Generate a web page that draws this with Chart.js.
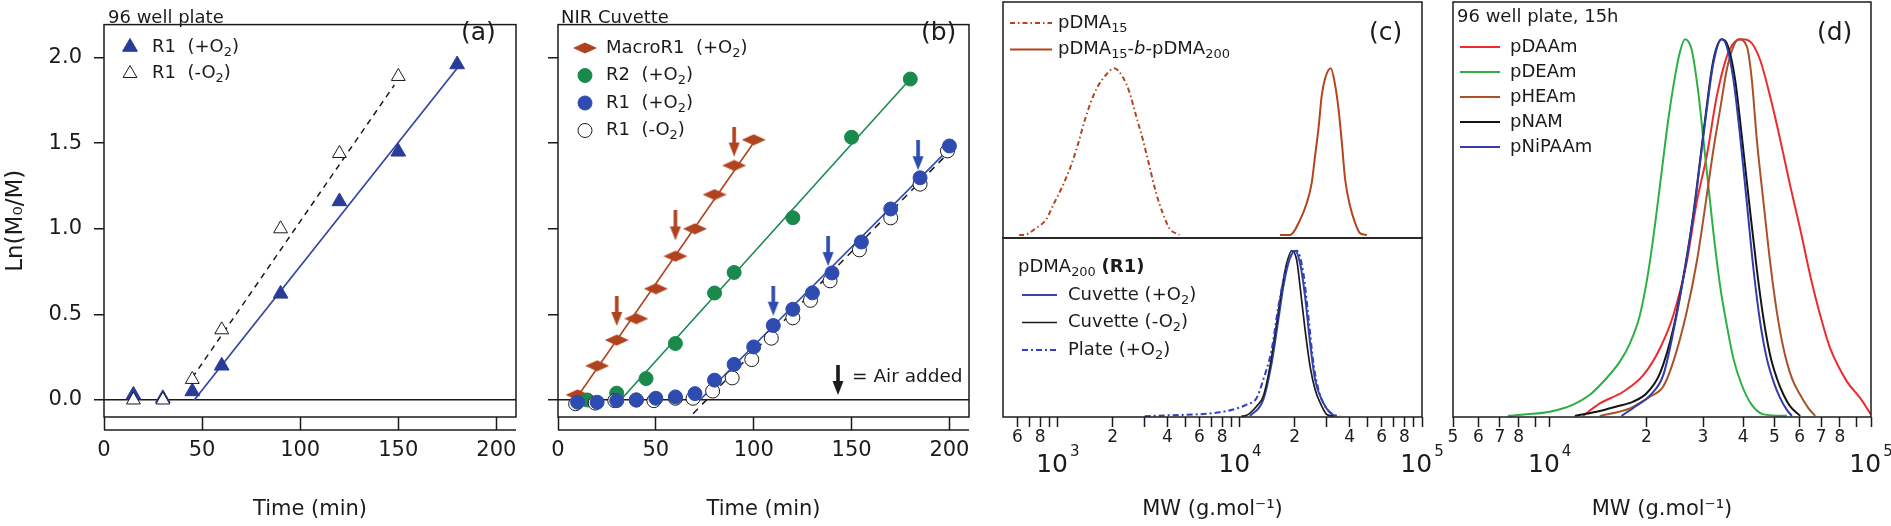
<!DOCTYPE html>
<html>
<head>
<meta charset="utf-8">
<title>Kinetics and GPC traces</title>
<script src="https://cdn.jsdelivr.net/npm/chart.js@4.4.1/dist/chart.umd.min.js"></script>
<style>
  html, body { margin: 0; padding: 0; background: #fff; }
  #fig { position: relative; width: 1891px; height: 526px; overflow: hidden; }
  #fig canvas { position: absolute; }
</style>
</head>
<body>
<div id="fig">
  <canvas id="pa" width="530" height="526" style="left:0;top:0"></canvas>
  <canvas id="pb" width="450" height="526" style="left:530px;top:0"></canvas>
  <canvas id="pc2" width="470" height="290" style="left:980px;top:236px"></canvas>
  <canvas id="pc1" width="470" height="240" style="left:980px;top:0"></canvas>
  <canvas id="pd" width="451" height="526" style="left:1440px;top:0"></canvas>
</div>
<script>
// ---------- data ----------
// shared time axis, panels (a) and (b)
var timeTicks = [0, 50, 100, 150, 200];
var lnTicks = [0, 0.5, 1.0, 1.5, 2.0];

// (a) 96 well plate
var aPlusTime = [15, 30, 45, 60, 90, 120, 150, 180];
var aPlusLn = [0.03, 0.01, 0.05, 0.20, 0.62, 1.16, 1.45, 1.96];
var aMinusTime = [15, 30, 45, 60, 90, 120, 150];
var aMinusLn = [0.00, 0.00, 0.12, 0.41, 1.00, 1.44, 1.89];
var aPlusFitTime = [46, 180.5];
var aPlusFitLn = [0, 1.945];
var aMinusFitTime = [45, 148];
var aMinusFitLn = [0.13, 1.84];

// (b) NIR cuvette
var bMacroTime = [10, 20, 30, 40, 50, 60, 70, 80, 90, 100];
var bMacroLn = [0.03, 0.20, 0.35, 0.475, 0.65, 0.84, 1.0, 1.20, 1.37, 1.52];
var bR2Time = [15, 30, 45, 60, 80, 90, 120, 150, 180];
var bR2Ln = [0.0, 0.04, 0.125, 0.33, 0.625, 0.745, 1.065, 1.535, 1.875];
var bR1Time = [10, 20, 30, 40, 50, 60, 70, 80, 90, 100, 110, 120, 130, 140, 155, 170, 185, 200];
var bR1Ln = [-0.013, -0.013, -0.004, 0, 0.01, 0.018, 0.037, 0.116, 0.208, 0.31, 0.435, 0.53, 0.626, 0.742, 0.923, 1.116, 1.298, 1.484];
var bR1noTime = [9, 19, 29, 40, 49, 60, 69, 79, 89, 99, 109, 120, 129, 139, 154, 170, 185, 199];
var bR1noLn = [-0.022, -0.018, -0.004, 0, -0.004, 0.01, 0.01, 0.052, 0.129, 0.236, 0.361, 0.48, 0.582, 0.696, 0.877, 1.064, 1.261, 1.455];
var bMacroFitTime = [10, 101], bMacroFitLn = [0.02, 1.52];
var bR2FitTime = [32, 180], bR2FitLn = [0, 1.875];
var bR1FitTime = [72.5, 200], bR1FitLn = [0, 1.47];
var bR1noFitTime = [69, 200], bR1noFitLn = [-0.08, 1.45];
var bAirBrownTime = [30, 60, 90], bAirBrownLn = [0.52, 1.02, 1.51];
var bAirBlueTime = [110, 138, 184], bAirBlueLn = [0.58, 0.87, 1.43];

// (c) GPC, top: macro-RAFT and block copolymer
var cTicks = [600, 700, 800, 900, 1000, 2000, 3000, 4000, 5000, 6000, 7000, 8000, 9000, 10000,
              20000, 30000, 40000, 50000, 60000, 70000, 80000, 90000, 100000];
var cTickLabels = ['6', '', '8', '', '', '2', '', '4', '', '6', '', '8', '', '',
                   '2', '', '4', '', '6', '', '8', '', ''];
var cDecades = [1000, 10000, 100000];
var cDecadeExp = ['3', '4', '5'];
var cShortMW = [613, 653, 757, 859, 955, 1061, 1179, 1283, 1396, 1519, 1653, 1837, 2042, 2270, 2470, 2688, 2925, 3183, 3464, 3769, 4101, 4656];
var cShortW = [0, 0, 0.04, 0.091, 0.192, 0.293, 0.414, 0.535, 0.677, 0.798, 0.889, 0.96, 1.0, 0.949, 0.859, 0.717, 0.576, 0.414, 0.253, 0.131, 0.04, 0];
var cBlockMW = [16600, 18840, 21400, 23280, 24800, 25870, 26990, 28150, 29370, 31560, 33340, 34780, 36280, 37840, 40310, 42950, 45760, 49810];
var cBlockW = [0, 0, 0.091, 0.192, 0.313, 0.475, 0.636, 0.838, 0.939, 1.0, 0.899, 0.758, 0.556, 0.333, 0.172, 0.071, 0.01, 0];
// (c) bottom: pDMA200 (R1)
var cCuvPlusMW = [11350, 13440, 14940, 16260, 17320, 18690, 20080, 21400, 22800, 24290, 25870, 28150, 31290, 34050];
var cCuvPlusW = [0, 0.100, 0.321, 0.582, 0.783, 0.944, 1.0, 0.924, 0.723, 0.442, 0.221, 0.100, 0.020, 0];
var cCuvMinusMW = [10210, 10880, 12350, 13440, 14630, 15920, 16960, 18070, 19250, 20510, 21400, 22800, 24290, 25870, 28150, 30000, 32640];
var cCuvMinusW = [0, 0.005, 0.060, 0.120, 0.301, 0.562, 0.763, 0.924, 1.0, 0.944, 0.783, 0.522, 0.301, 0.161, 0.060, 0.010, 0];
var cPlateMW = [3000, 4295, 6026, 7761, 9191, 10880, 12350, 13440, 14940, 16260, 18070, 20510, 22320, 23780, 25340, 26990, 29370, 32640, 35520];
var cPlateW = [0, 0.006, 0.012, 0.024, 0.040, 0.070, 0.110, 0.221, 0.402, 0.663, 0.904, 1.0, 0.863, 0.602, 0.321, 0.161, 0.060, 0.010, 0];

// (d) 96 well plate, 15h
var dTicks = [5000, 6000, 7000, 8000, 9000, 10000, 20000, 30000, 40000, 50000, 60000, 70000, 80000, 90000, 100000];
var dTickLabels = ['5', '6', '7', '8', '', '', '2', '3', '4', '5', '6', '7', '8', '', ''];
var dDecades = [10000, 100000];
var dDecadeExp = ['4', '5'];
var dDAAmMW = [12700, 14320, 16930, 19550, 22030, 24250, 26690, 28670, 30810, 33100, 35570, 37310, 39610, 42050, 45180, 48540, 52160, 56040, 60200, 64690, 69500, 74670, 84180, 92620, 97170, 100000];
var dDAAmW = [0, 0.033, 0.064, 0.108, 0.179, 0.267, 0.408, 0.567, 0.690, 0.848, 0.954, 0.989, 1.0, 0.994, 0.945, 0.848, 0.734, 0.611, 0.496, 0.373, 0.267, 0.179, 0.091, 0.047, 0.020, 0.003];
var dDEAmMW = [7410, 8460, 10000, 11830, 13330, 15020, 16530, 17760, 19080, 20260, 21250, 22290, 23390, 24540, 25440, 26360, 27660, 29020, 30080, 31180, 32320, 33900, 35570, 37310, 39610, 42560, 46280, 54710];
var dDEAmW = [0, 0.004, 0.011, 0.030, 0.056, 0.100, 0.144, 0.192, 0.267, 0.381, 0.505, 0.646, 0.787, 0.901, 0.967, 1.0, 0.972, 0.857, 0.734, 0.611, 0.487, 0.346, 0.241, 0.152, 0.082, 0.029, 0.004, 0];
var dHEAmMW = [14320, 17760, 20500, 22560, 24250, 26690, 28670, 30810, 32320, 33900, 35570, 37310, 38670, 41060, 42560, 44110, 46280, 48540, 50920, 53420, 56710, 60200, 63920, 67050];
var dHEAmW = [0, 0.020, 0.051, 0.078, 0.144, 0.276, 0.408, 0.584, 0.707, 0.813, 0.919, 0.981, 1.0, 0.981, 0.893, 0.734, 0.567, 0.408, 0.276, 0.179, 0.100, 0.056, 0.020, 0];
var dNAMMW = [11970, 13980, 16140, 18190, 20020, 22030, 24250, 26690, 27990, 29370, 30810, 32320, 34310, 35740, 37760, 39610, 41750, 44110, 46280, 48540, 50920, 53420, 56040, 60200];
var dNAMW = [0, 0.011, 0.025, 0.038, 0.060, 0.113, 0.232, 0.421, 0.536, 0.677, 0.822, 0.945, 1.0, 0.985, 0.893, 0.743, 0.567, 0.390, 0.258, 0.161, 0.100, 0.056, 0.025, 0];
var dNiPAAmMW = [16730, 18630, 20500, 22560, 24250, 26690, 27990, 29370, 30810, 32320, 34310, 35570, 37310, 39140, 41060, 43070, 45180, 47400, 49720, 52160, 54710, 56710];
var dNiPAAmW = [0, 0.027, 0.054, 0.108, 0.223, 0.417, 0.531, 0.672, 0.813, 0.937, 1.0, 0.981, 0.893, 0.743, 0.567, 0.390, 0.249, 0.152, 0.091, 0.047, 0.016, 0];

// ---------- look ----------
var INK = '#1b1b1b';
var FONT = '"DejaVu Sans", sans-serif';
Chart.defaults.font.family = FONT;
Chart.defaults.color = INK;
Chart.defaults.animation = false;

function xy(xs, ys) { return xs.map(function (x, i) { return { x: x, y: ys[i] }; }); }

function arrowImg(color) {
  var c = document.createElement('canvas');
  c.width = 12; c.height = 30;
  var g = c.getContext('2d');
  g.fillStyle = color;
  g.fillRect(4.2, 0, 3.6, 18);
  g.beginPath(); g.moveTo(0.5, 16); g.lineTo(11.5, 16); g.lineTo(6, 30); g.closePath(); g.fill();
  return c;
}
function diamondImg(color) {
  var c = document.createElement('canvas');
  c.width = 24; c.height = 12;
  var g = c.getContext('2d');
  g.fillStyle = color;
  g.beginPath(); g.moveTo(0, 6); g.lineTo(12, 0.5); g.lineTo(24, 6); g.lineTo(12, 11.5); g.closePath(); g.fill();
  return c;
}

function points(label, xs, ys, style, r, fill, stroke, bw, order) {
  return { label: label, data: xy(xs, ys), showLine: false, pointStyle: style, pointRadius: r, pointHoverRadius: r,
           pointBackgroundColor: fill, pointBorderColor: stroke, pointBorderWidth: bw, order: order };
}
function line(label, xs, ys, color, width, dash, order) {
  return { label: label, data: xy(xs, ys), showLine: true, borderColor: color, borderWidth: width,
           borderDash: dash || [], pointRadius: 0, fill: false, order: order };
}
function curve(label, xs, ys, color, width, dash, order) {
  var d = line(label, xs, ys, color, width, dash, order);
  d.cubicInterpolationMode = 'monotone';
  return d;
}

// tiny markup: _{..} subscript, ^{..} superscript, /{..} italic, !{..} bold
function parseRuns(s) {
  var out = [], re = /([_^\/!])\{([^}]*)\}/g, last = 0, m;
  while ((m = re.exec(s))) {
    if (m.index > last) out.push({ t: s.slice(last, m.index) });
    out.push({ t: m[2], sub: m[1] === '_', sup: m[1] === '^', i: m[1] === '/', b: m[1] === '!' });
    last = re.lastIndex;
  }
  if (last < s.length) out.push({ t: s.slice(last) });
  return out;
}
function drawRuns(ctx, text, x, y, size) {
  parseRuns(text).forEach(function (r) {
    var sz = (r.sub || r.sup) ? size * 0.72 : size;
    var dy = r.sub ? size * 0.3 : (r.sup ? -size * 0.42 : 0);
    ctx.font = (r.i ? 'italic ' : '') + (r.b ? 'bold ' : '') + sz + 'px ' + FONT;
    ctx.fillText(r.t, x, y + dy);
    x += ctx.measureText(r.t).width;
  });
}
function drawMarker(ctx, style, r, x, y) {
  if (typeof style === 'object') { ctx.drawImage(style, x - style.width / 2, y - style.height / 2); return; }
  ctx.beginPath();
  if (style === 'triangle') {
    ctx.moveTo(x, y - r); ctx.lineTo(x + r * 0.866, y + r / 2); ctx.lineTo(x - r * 0.866, y + r / 2); ctx.closePath();
  } else {
    ctx.arc(x, y, r, 0, Math.PI * 2);
  }
  ctx.fill();
  ctx.stroke();
}

// frame, legend, panel letters, decade labels
function overlay(conf) {
  return {
    id: 'overlay',
    afterDraw: function (chart) {
      var ctx = chart.ctx, a = chart.chartArea;
      ctx.save();
      ctx.strokeStyle = INK; ctx.lineWidth = 1.5;
      ctx.strokeRect(a.left, a.top, a.right - a.left, a.bottom - a.top);
      if (conf.axisGap) {
        ctx.beginPath();
        ctx.moveTo(a.left, a.bottom + conf.axisGap);
        ctx.lineTo(a.right, a.bottom + conf.axisGap);
        ctx.stroke();
      }
      ctx.textBaseline = 'middle'; ctx.textAlign = 'left'; ctx.fillStyle = INK;
      if (conf.title) drawRuns(ctx, conf.title, conf.titleX, conf.titleY, conf.size);
      (conf.rows || []).forEach(function (r, i) {
        var y = conf.rowY + i * conf.rowGap;
        var ds = chart.data.datasets[r.ds];
        ctx.save();
        if (conf.sample === 'line') {
          ctx.strokeStyle = ds.borderColor; ctx.lineWidth = ds.borderWidth;
          ctx.setLineDash(ds.borderDash || []);
          ctx.beginPath(); ctx.moveTo(conf.sampleX0, y); ctx.lineTo(conf.sampleX1, y); ctx.stroke();
        } else {
          ctx.fillStyle = ds.pointBackgroundColor; ctx.strokeStyle = ds.pointBorderColor;
          ctx.lineWidth = ds.pointBorderWidth;
          drawMarker(ctx, ds.pointStyle, ds.pointRadius, conf.markerX, y);
        }
        ctx.restore();
        ctx.fillStyle = INK;
        drawRuns(ctx, r.text, conf.textX, y, conf.size);
      });
      (conf.notes || []).forEach(function (n) {
        if (n.img) ctx.drawImage(n.img, n.x - n.img.width / 2, n.y - n.img.height / 2);
        else drawRuns(ctx, n.text, n.x, n.y, n.size);
      });
      if (conf.decades) {
        var s = chart.scales.x, yy = a.bottom + conf.decades.dy;
        conf.decades.values.forEach(function (v, i) {
          var px = s.getPixelForValue(v), e = conf.decades.exps[i];
          ctx.font = '25px ' + FONT; var w1 = ctx.measureText('10').width;
          ctx.font = '15px ' + FONT; var w2 = ctx.measureText(e).width;
          var x0 = px - (w1 + 2 + w2) / 2;
          ctx.font = '25px ' + FONT; ctx.fillText('10', x0, yy);
          ctx.font = '15px ' + FONT; ctx.fillText(e, x0 + w1 + 2, yy - 13);
        });
      }
      ctx.restore();
    }
  };
}

function tickSetter(list) {
  return function (s) { s.ticks = list.map(function (v) { return { value: v }; }); };
}

function kineticScales(yWidth, withLabels) {
  return {
    x: {
      type: 'linear', min: 0, max: 210,
      afterBuildTicks: tickSetter(timeTicks),
      afterFit: function (s) { s.height = 109; },
      border: { display: false },
      grid: { drawOnChartArea: false, tickLength: 13, tickWidth: 1.5, tickColor: INK },
      ticks: { font: { size: 21 }, padding: 8, maxRotation: 0, color: INK },
      title: { display: true, text: 'Time (min)', font: { size: 21 }, color: INK, padding: { top: 0, bottom: 4 } }
    },
    y: {
      type: 'linear', min: -0.0994, max: 2.193,
      afterBuildTicks: tickSetter(lnTicks),
      afterFit: function (s) { s.width = yWidth; },
      border: { display: false },
      grid: {
        color: function (c) { return c.tick && c.tick.value === 0 ? INK : 'rgba(0,0,0,0)'; },
        lineWidth: 1.5, tickLength: 10, tickWidth: 1.5, tickColor: INK
      },
      ticks: { font: { size: 21 }, padding: 12, color: INK,
               callback: function (v) { return withLabels ? Number(v).toFixed(1) : ''; } },
      title: { display: withLabels, text: 'Ln(M₀/M)', font: { size: 23 }, color: INK, padding: { top: 2, bottom: 0 } }
    }
  };
}

function mwAxis(ticks, labels, lo) {
  return {
    type: 'logarithmic', min: lo, max: 100000,
    afterBuildTicks: tickSetter(ticks),
    afterFit: function (s) { s.height = 109; },
    border: { display: false },
    grid: { drawOnChartArea: false, tickLength: 10, tickWidth: 1.5, tickColor: INK },
    ticks: { autoSkip: false, maxRotation: 0, padding: 0, font: { size: 17 }, color: INK,
             callback: function (v, i) { return labels[i]; } },
    title: { display: true, text: 'MW (g.mol⁻¹)', font: { size: 21 }, color: INK, padding: { top: 0, bottom: 4 } }
  };
}

function baseOptions(scales, pad) {
  return {
    responsive: false, devicePixelRatio: 1, animation: false,
    layout: { padding: pad },
    plugins: { legend: { display: false }, tooltip: { enabled: false } },
    scales: scales
  };
}

// ---------- (a) ----------
var BLUE_A = '#2a3b98';
new Chart(document.getElementById('pa'), {
  type: 'scatter',
  data: { datasets: [
    points('R1 (+O2)', aPlusTime, aPlusLn, 'triangle', 8.5, BLUE_A, BLUE_A, 1, 1),
    points('R1 (-O2)', aMinusTime, aMinusLn, 'triangle', 8, '#fff', INK, 1, 0),
    line('fit +O2', aPlusFitTime, aPlusFitLn, '#34449f', 1.7, null, 3),
    line('fit -O2', aMinusFitTime, aMinusFitLn, INK, 1.5, [6, 5], 2)
  ] },
  options: baseOptions(kineticScales(104, true), { left: 0, right: 14, top: 2, bottom: 0 }),
  plugins: [overlay({
    axisGap: 13, size: 18,
    title: '96 well plate', titleX: 108, titleY: 18,
    rows: [{ ds: 0, text: 'R1  (+O_{2})' }, { ds: 1, text: 'R1  (-O_{2})' }],
    rowY: 47, rowGap: 26.5, markerX: 130, textX: 152,
    notes: [{ text: '(a)', x: 461, y: 33, size: 25 }]
  })]
});

// ---------- (b) ----------
var BROWN = '#b0431d', GREEN_B = '#198a4c', BLUE_B = '#2e4bb0';
new Chart(document.getElementById('pb'), {
  type: 'scatter',
  data: { datasets: [
    points('MacroR1 (+O2)', bMacroTime, bMacroLn, diamondImg(BROWN), 11, BROWN, BROWN, 0, 4),
    points('R2 (+O2)', bR2Time, bR2Ln, 'circle', 7, GREEN_B, GREEN_B, 1, 3),
    points('R1 (+O2)', bR1Time, bR1Ln, 'circle', 7, BLUE_B, BLUE_B, 1, 1),
    points('R1 (-O2)', bR1noTime, bR1noLn, 'circle', 7, '#fff', INK, 1, 2),
    line('fit MacroR1', bMacroFitTime, bMacroFitLn, BROWN, 1.6, null, 8),
    line('fit R2', bR2FitTime, bR2FitLn, GREEN_B, 1.6, null, 7),
    line('fit R1 +O2', bR1FitTime, bR1FitLn, BLUE_B, 1.6, null, 6),
    line('fit R1 -O2', bR1noFitTime, bR1noFitLn, INK, 1.5, [7, 6], 5),
    points('air added', bAirBrownTime, bAirBrownLn, arrowImg(BROWN), 10, BROWN, BROWN, 0, 0),
    points('air added', bAirBlueTime, bAirBlueLn, arrowImg(BLUE_B), 10, BLUE_B, BLUE_B, 0, 0)
  ] },
  options: baseOptions(kineticScales(28, false), { left: 0, right: 5, top: 2, bottom: 0 }),
  plugins: [overlay({
    axisGap: 13, size: 18,
    title: 'NIR Cuvette', titleX: 31, titleY: 18,
    rows: [{ ds: 0, text: 'MacroR1  (+O_{2})' }, { ds: 1, text: 'R2  (+O_{2})' },
           { ds: 2, text: 'R1  (+O_{2})' }, { ds: 3, text: 'R1  (-O_{2})' }],
    rowY: 48, rowGap: 27.5, markerX: 55, textX: 76,
    notes: [{ text: '(b)', x: 391, y: 33, size: 25 },
            { img: arrowImg(INK), x: 308, y: 380 },
            { text: '= Air added', x: 322, y: 377, size: 18.5 }]
  })]
});

// ---------- (c) top ----------
var C_BROWN = '#b5441c';
new Chart(document.getElementById('pc1'), {
  type: 'scatter',
  data: { datasets: [
    curve('pDMA15', cShortMW, cShortW, C_BROWN, 2, [5, 3, 1.5, 3], 1),
    curve('pDMA15-b-pDMA200', cBlockMW, cBlockW, C_BROWN, 2, null, 0)
  ] },
  options: baseOptions({
    x: { type: 'logarithmic', display: false, min: 500, max: 100000 },
    y: { display: false, min: -0.018, max: 1.398 }
  }, { left: 23, right: 28, top: 2, bottom: 2 }),
  plugins: [overlay({
    size: 18, sample: 'line',
    rows: [{ ds: 0, text: 'pDMA_{15}' }, { ds: 1, text: 'pDMA_{15}-/{b}-pDMA_{200}' }],
    rowY: 23, rowGap: 26.5, sampleX0: 30, sampleX1: 72, textX: 78,
    notes: [{ text: '(c)', x: 389, y: 33, size: 25 }]
  })]
});

// ---------- (c) bottom ----------
new Chart(document.getElementById('pc2'), {
  type: 'scatter',
  data: { datasets: [
    curve('Cuvette (+O2)', cCuvPlusMW, cCuvPlusW, '#3443ad', 2, null, 2),
    curve('Cuvette (-O2)', cCuvMinusMW, cCuvMinusW, INK, 1.7, null, 1),
    curve('Plate (+O2)', cPlateMW, cPlateW, '#3040c4', 2, [6, 3, 2, 3], 0)
  ] },
  options: baseOptions({
    x: mwAxis(cTicks, cTickLabels, 500),
    y: { display: false, min: -0.005, max: 1.077 }
  }, { left: 23, right: 28, top: 2, bottom: 0 }),
  plugins: [overlay({
    size: 18, sample: 'line',
    title: 'pDMA_{200} !{(R1)}', titleX: 38, titleY: 31,
    rows: [{ ds: 0, text: 'Cuvette (+O_{2})' }, { ds: 1, text: 'Cuvette (-O_{2})' }, { ds: 2, text: 'Plate (+O_{2})' }],
    rowY: 59, rowGap: 27.5, sampleX0: 42, sampleX1: 77, textX: 88,
    decades: { values: cDecades, exps: cDecadeExp, dy: 48 }
  })]
});

// ---------- (d) ----------
new Chart(document.getElementById('pd'), {
  type: 'scatter',
  data: { datasets: [
    curve('pDAAm', dDAAmMW, dDAAmW, '#ee2a2e', 2, null, 4),
    curve('pDEAm', dDEAmMW, dDEAmW, '#2eaf45', 2, null, 3),
    curve('pHEAm', dHEAmMW, dHEAmW, '#a8522a', 2, null, 2),
    curve('pNAM', dNAMMW, dNAMW, '#141414', 2, null, 1),
    curve('pNiPAAm', dNiPAAmMW, dNiPAAmW, '#2f3ea8', 2, null, 0)
  ] },
  options: baseOptions({
    x: mwAxis(dTicks, dTickLabels, 5000),
    y: { display: false, min: -0.003, max: 1.099 }
  }, { left: 13, right: 20, top: 2, bottom: 0 }),
  plugins: [overlay({
    size: 18, sample: 'line',
    title: '96 well plate, 15h', titleX: 17, titleY: 17,
    rows: [{ ds: 0, text: 'pDAAm' }, { ds: 1, text: 'pDEAm' }, { ds: 2, text: 'pHEAm' },
           { ds: 3, text: 'pNAM' }, { ds: 4, text: 'pNiPAAm' }],
    rowY: 47, rowGap: 25, sampleX0: 20, sampleX1: 60, textX: 70,
    notes: [{ text: '(d)', x: 377, y: 33, size: 25 }],
    decades: { values: dDecades, exps: dDecadeExp, dy: 48 }
  })]
});
</script>
</body>
</html>
